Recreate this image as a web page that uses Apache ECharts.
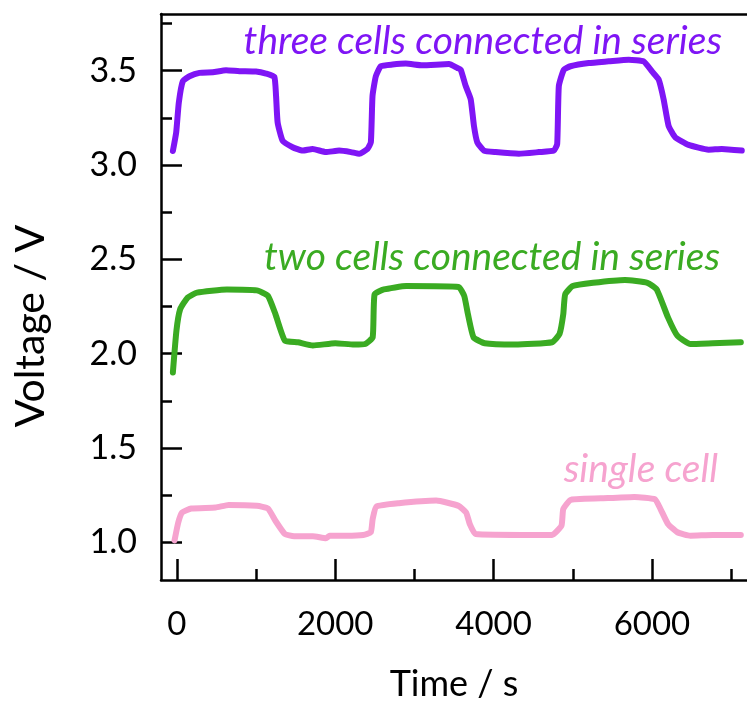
<!DOCTYPE html>
<html>
<head>
<meta charset="utf-8">
<script src="https://cdn.jsdelivr.net/npm/echarts@6/dist/echarts.min.js"></script>
<style>
html,body{margin:0;padding:0;background:#fff;overflow:hidden;}
#chart{width:747px;height:707px;}
</style>
</head>
<body>
<div id="chart"></div>
<script>
// ---- data (time in s, voltage in V) ----
const threeCellsT = [-50,-8,25,76,160,286,454,622,790,1000,1127,1231,1253,1273,1336,1462,1588,1714,1883,2050,2198,2303,2408,2450,2471,2513,2576,2723,2891,3101,3437,3542,3585,3648,3711,3752,3794,3878,4025,4320,4572,4761,4803,4824,4887,4971,5202,5454,5706,5895,6000,6084,6147,6210,6294,6462,6714,6882,7134];
const threeCellsV = [3.074,3.173,3.33,3.444,3.47,3.488,3.491,3.502,3.497,3.495,3.484,3.467,3.365,3.225,3.128,3.094,3.076,3.085,3.068,3.076,3.068,3.059,3.085,3.12,3.365,3.47,3.523,3.532,3.537,3.528,3.535,3.514,3.505,3.418,3.348,3.207,3.12,3.076,3.068,3.059,3.068,3.076,3.111,3.418,3.505,3.523,3.54,3.549,3.558,3.549,3.496,3.453,3.348,3.207,3.146,3.106,3.081,3.085,3.076];

const twoCellsT = [-50,-5,42,136,255,632,1010,1151,1245,1364,1529,1718,2001,2237,2379,2473,2497,2614,2898,3558,3629,3676,3747,3888,4266,4739,4833,4880,4904,4999,5257,5659,5942,6060,6202,6320,6485,6768,7122];
const twoCellsV = [1.90,2.122,2.235,2.297,2.323,2.34,2.335,2.306,2.209,2.069,2.06,2.043,2.055,2.048,2.051,2.086,2.314,2.34,2.358,2.353,2.306,2.209,2.086,2.055,2.048,2.06,2.104,2.209,2.314,2.358,2.375,2.39,2.375,2.34,2.192,2.095,2.051,2.055,2.06];

const singleCellT = [-29,18,66,183,490,655,1010,1151,1245,1364,1481,1718,1883,1930,2143,2355,2449,2473,2520,2803,3276,3558,3653,3699,3771,4502,4739,4857,4880,4975,5446,5778,6037,6108,6202,6320,6485,6768,7122];
const singleCellV = [1.01,1.105,1.158,1.179,1.184,1.198,1.193,1.179,1.114,1.044,1.032,1.032,1.021,1.035,1.035,1.039,1.053,1.123,1.189,1.207,1.221,1.193,1.158,1.097,1.044,1.039,1.039,1.088,1.176,1.225,1.234,1.24,1.228,1.176,1.097,1.053,1.035,1.039,1.039];

const xMajorTicks = [0,2000,4000,6000];
const xMinorTicks = [1000,3000,5000,7000];
const yMajorTicks = [1.0,1.5,2.0,2.5,3.0,3.5];
const yMinorTicks = [1.25,1.75,2.25,2.75,3.25,3.75];

const seriesNames = ['three cells connected in series','two cells connected in series','single cell'];
const seriesColors = ['#7f15f5','#3aab22','#f6a3cf'];

const zip = (t, v) => t.map((x, i) => [x, v[i]]);

const chart = echarts.init(document.getElementById('chart'), null, {renderer:'canvas'});
const FONT = 'Lato';
const axisLine = {show:true, onZero:false, lineStyle:{color:'#000', width:2.5}};

const option = {
  backgroundColor:'#fff',
  animation:false,
  grid:{left:161, top:14, right:-2, bottom:121, containLabel:false},
  xAxis:[
    {type:'value', min:-200, max:7200, position:'bottom',
     axisLine:axisLine, splitLine:{show:false},
     axisTick:{show:true, inside:true, length:21, customValues:xMajorTicks, lineStyle:{color:'#000', width:2.5}},
     axisLabel:{show:true, customValues:xMajorTicks, margin:28, color:'#000', fontFamily:FONT, fontSize:33,
       formatter:(v)=>String(v)},
     name:'Time / s', nameLocation:'middle', nameGap:86,
     nameTextStyle:{color:'#000', fontFamily:FONT, fontSize:36}},
    {type:'value', min:-200, max:7200, position:'bottom',
     axisLine:{show:false, onZero:false}, splitLine:{show:false},
     axisTick:{show:true, inside:true, length:11, customValues:xMinorTicks, lineStyle:{color:'#000', width:2.5}},
     axisLabel:{show:false}},
    {type:'value', min:-200, max:7200, position:'top',
     axisLine:axisLine, splitLine:{show:false}, axisTick:{show:false}, axisLabel:{show:false}}
  ],
  yAxis:[
    {type:'value', min:0.8, max:3.8, position:'left',
     axisLine:axisLine, splitLine:{show:false},
     axisTick:{show:true, inside:true, length:21, customValues:yMajorTicks, lineStyle:{color:'#000', width:2.5}},
     axisLabel:{show:true, customValues:yMajorTicks, margin:24, color:'#000', fontFamily:FONT, fontSize:34,
       formatter:(v)=>v.toFixed(1)}},
    {type:'value', min:0.8, max:3.8, position:'left',
     axisLine:{show:false, onZero:false}, splitLine:{show:false},
     axisTick:{show:true, inside:true, length:11, customValues:yMinorTicks, lineStyle:{color:'#000', width:2.5}},
     axisLabel:{show:false}}
  ],
  series:[
    {name:seriesNames[0], type:'line', data:zip(threeCellsT, threeCellsV), showSymbol:false, symbol:'none',
     lineStyle:{color:seriesColors[0], width:6, join:'round', cap:'round'}, smooth:0.15},
    {name:seriesNames[1], type:'line', data:zip(twoCellsT, twoCellsV), showSymbol:false, symbol:'none',
     lineStyle:{color:seriesColors[1], width:6, join:'round', cap:'round'}, smooth:0.15},
    {name:seriesNames[2], type:'line', data:zip(singleCellT, singleCellV), showSymbol:false, symbol:'none',
     lineStyle:{color:seriesColors[2], width:6, join:'round', cap:'round'}, smooth:0.15}
  ],
  graphic:[
    {type:'text', x:722, y:22, style:{text:seriesNames[0], fill:seriesColors[0], font:'italic 39px Lato', align:'right', verticalAlign:'top'}},
    {type:'text', x:720, y:238, style:{text:seriesNames[1], fill:seriesColors[1], font:'italic 39px Lato', align:'right', verticalAlign:'top'}},
    {type:'text', x:718, y:450, style:{text:seriesNames[2], fill:seriesColors[2], font:'italic 39px Lato', align:'right', verticalAlign:'top'}},
    {type:'text', x:31, y:326, rotation:Math.PI/2,
     style:{text:'Voltage / V', fill:'#000', font:'41px Lato', align:'center', verticalAlign:'middle'}}
  ]
};
chart.setOption(option);
</script>
</body>
</html>
